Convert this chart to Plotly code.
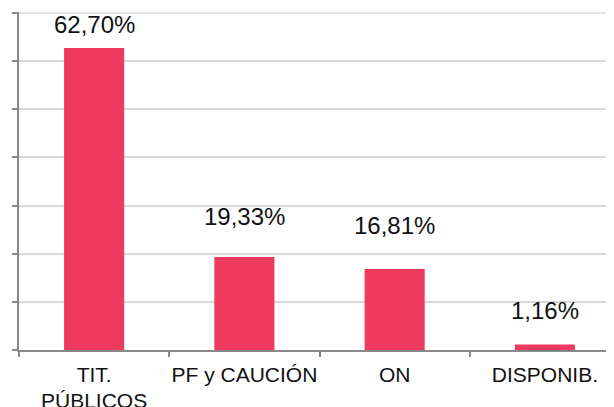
import plotly.graph_objects as go

categories = ["TIT.<br>PÚBLICOS", "PF y CAUCIÓN", "ON", "DISPONIB."]
values = [62.70, 19.33, 16.81, 1.16]
value_labels = ["62,70%", "19,33%", "16,81%", "1,16%"]
y_ticks = [0, 10, 20, 30, 40, 50, 60, 70]

# style: vertical offset (px) of each value label above its bar top
label_shift = [24, 40, 44, 34]

BAR = "#EE3A5F"
AXIS = "#898989"
GRID = "#D9D9D9"
FONT = "Liberation Sans, Arial, sans-serif"
TXT = "#111111"

fig = go.Figure()
fig.add_trace(go.Bar(
    x=categories, y=values, width=0.4,
    marker=dict(color=BAR, line=dict(width=0)),
    hoverinfo="skip",
))

for c, v, t, s in zip(categories, values, value_labels, label_shift):
    fig.add_annotation(x=c, y=v, text=t, showarrow=False, yshift=s,
                       yanchor="middle", xanchor="center",
                       font=dict(family=FONT, size=24, color=TXT))

# category labels: first line as tick label, further lines tighter below
tick_text = [c.split("<br>")[0] for c in categories]
for c in categories:
    for i, line in enumerate(c.split("<br>")[1:], start=1):
        fig.add_annotation(x=c, y=0, yref="paper", text=line, showarrow=False,
                           yanchor="middle", xanchor="center",
                           yshift=-26 - 24 * i,
                           font=dict(family=FONT, size=21, color=TXT))

# make sure the top gridline is visible
fig.add_hline(y=y_ticks[-1], line=dict(color=GRID, width=1.5), layer="below")

# page body adds an 8px offset; compensate so the figure fills the window
fig.update_layout(
    width=606, height=399,
    margin=dict(l=11, r=0, t=4, b=57),
    paper_bgcolor="white", plot_bgcolor="white",
    showlegend=False,
    font=dict(family=FONT, size=21, color=TXT),
)
fig.update_xaxes(
    type="category", range=[-0.5, 3.46], automargin=False, tickangle=0,
    tickvals=categories, ticktext=tick_text, ticklabelstandoff=5,
    showline=True, linecolor=AXIS, linewidth=1.5,
    ticks="outside", ticklen=5, tickcolor=AXIS, tickwidth=1.5,
    tickson="boundaries", showgrid=False,
    tickfont=dict(family=FONT, size=21, color=TXT),
)
fig.update_yaxes(
    range=[0, 70.2], tickvals=y_ticks, showticklabels=False, automargin=False,
    showline=True, linecolor=AXIS, linewidth=1.5,
    ticks="outside", ticklen=5, tickcolor=AXIS, tickwidth=1.5,
    showgrid=True, gridcolor=GRID, gridwidth=1.5, zeroline=False,
)

fig.write_html("out.html")
